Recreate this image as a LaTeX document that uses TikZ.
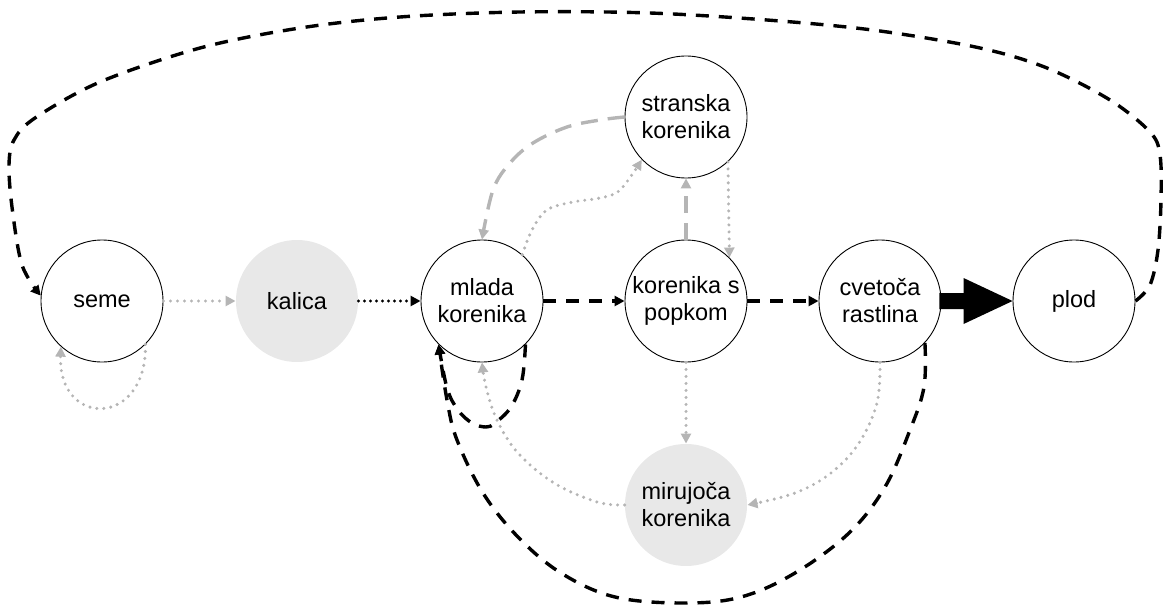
\documentclass[tikz,border=0pt]{standalone}
\usepackage{fontspec}
\setmainfont{Liberation Sans}
\usetikzlibrary{arrows.meta,calc}
\definecolor{lgray}{HTML}{B5B5B5}
\definecolor{nfill}{HTML}{E8E8E8}
\begin{document}
\begin{tikzpicture}[x=1pt,y=-1pt,
  stage/.style={circle,draw=black,line width=0.9pt,fill=white,minimum size=122pt,inner sep=0pt,align=center,font=\fontsize{23.5}{27}\selectfont},
  rest/.style={stage,draw=none,fill=nfill},
  tipb/.style={-{Triangle[length=10pt,width=10pt]}},
  blkdash/.style={draw=black,line width=3.4pt,dash pattern=on 13pt off 10pt,tipb},
  blkdot/.style={draw=black,line width=3.4pt,dash pattern=on 0pt off 6pt,line cap=round,tipb},
  grydot/.style={draw=lgray,line width=3.4pt,dash pattern=on 0pt off 7pt,line cap=round,tipb},
  grydash/.style={draw=lgray,line width=3.4pt,dash pattern=on 17pt off 10pt,tipb},
]
\useasboundingbox (0,0) rectangle (1164,607);
% nodes
\node[stage] (se) at (102,301) {seme};
\node[rest]  (ka) at (297,301) {kalica};
\node[stage] (ml) at (482,301) {mlada\\korenika};
\node[stage] (po) at (686,301) {korenika s\\popkom};
\node[stage] (st) at (686,117) {stranska\\korenika};
\node[stage] (cv) at (880,301) {cvetoča\\rastlina};
\node[stage] (pl) at (1074,301) {plod};
\node[rest]  (mi) at (686,505) {mirujoča\\korenika};
% straight connectors
\draw[grydot] (se.east) -- (ka.west);
\draw[blkdot] (ka.east) -- (ml.west);
\draw[blkdash] (ml.east) -- (po.west);
\draw[blkdash] (po.east) -- (cv.west);
\draw[grydot] (po.south) -- (mi.north);
\draw[grydash] (po.north) -- (st.south);
\draw[grydot] (st.-47) -- (po.45);
% big arrow cvetoca -> plod
\fill[black] ($(cv.east)+(-2,-8)$) -- ($(pl.west)+(-49,-8)$) -- ($(pl.west)+(-49,-23)$) -- (pl.west)
  -- ($(pl.west)+(-49,23)$) -- ($(pl.west)+(-49,8)$) -- ($(cv.east)+(-2,8)$) -- cycle;
% seme self loop
\draw[grydot] (se.-45) .. controls (147,428) and (58,428) .. (se.-132);
% curved grey connectors
\draw[grydash] plot[smooth,tension=0.6] coordinates {(st.west) (600,120) (567,127) (533,143) (510,163) (493,190) (ml.north)};
\draw[grydot] plot[smooth,tension=0.6] coordinates {(ml.49) (532,230) (547,210) (573,202) (600,198) (620,190) (st.-136)};
\draw[grydot] plot[smooth,tension=0.6] coordinates {(mi.west) (597,502) (554,483) (518,453) (497,420) (486,387) (ml.south)};
\draw[grydot] plot[smooth,tension=0.6] coordinates {(cv.south) (877,403) (859,443) (831,473) (795,493) (mi.east)};
% black dashed loops
\draw[blkdash] plot[smooth,tension=0.6] coordinates {(ml.-45) (522,380) (511,407) (495,423) (486,427) (472,423) (458,410) (447,388) (ml.-135)};
\draw[blkdash] plot[smooth,tension=0.6] coordinates {(cv.-43) (924,387) (910,430) (885,487) (849,533) (795,573) (741,597) (684,603) (615,597) (561,573) (518,537) (483,493) (457,440) (447,400) (ml.-135)};
\draw[blkdash] plot[smooth,tension=0.55] coordinates {(pl.east) (1150,285) (1158,250) (1161,200) (1160,155) (1150,132) (1110,100) (1047,68) (980,48) (880,31) (780,21) (650,13) (520,12) (400,17) (300,28) (200,48) (100,82) (35,118) (14,140) (9,165) (12,207) (22,265) (se.175)};
\end{tikzpicture}
\end{document}
